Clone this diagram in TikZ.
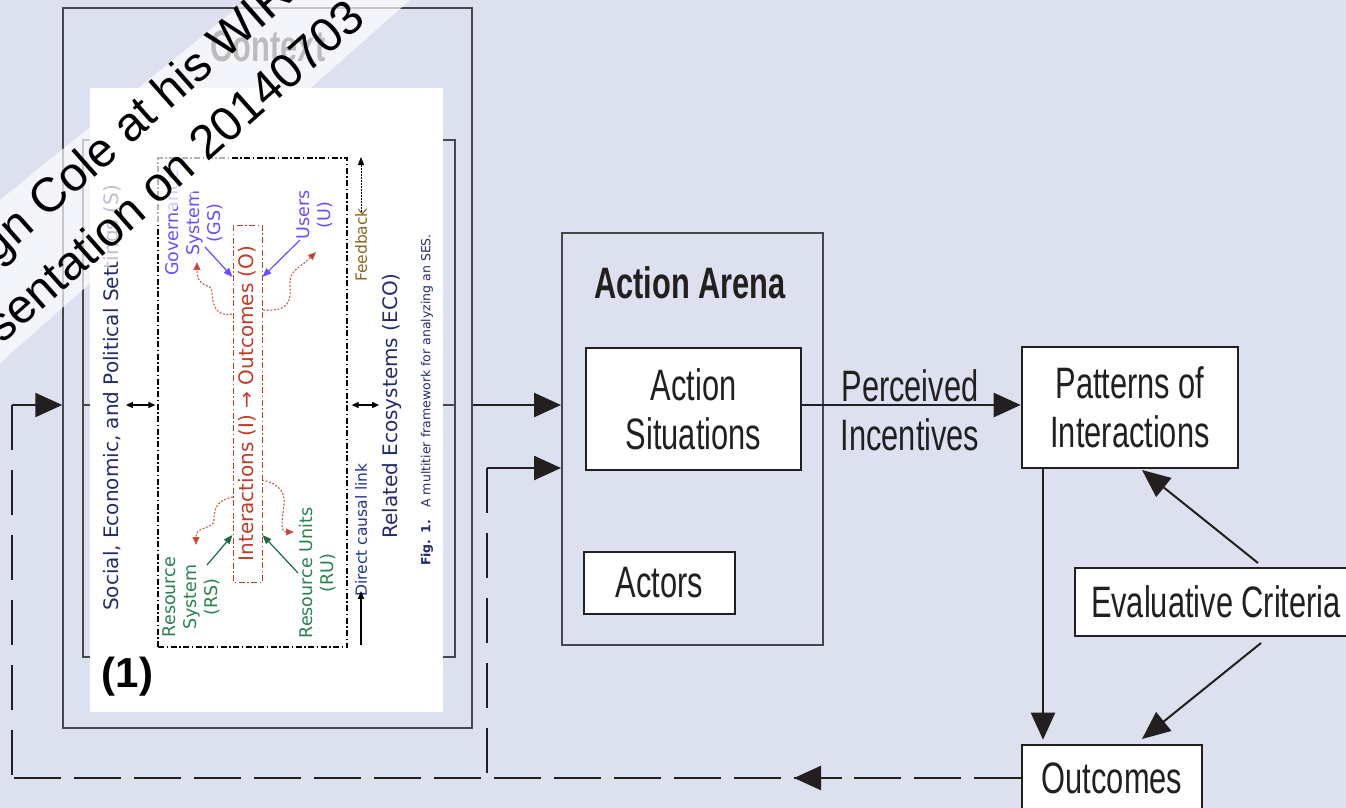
\documentclass[tikz,border=0pt]{standalone}
\usepackage{fontspec}
\setmainfont{Liberation Sans}
\newfontfamily\condf[FakeStretch=0.7]{Liberation Sans}
\newfontfamily\insf{DejaVu Sans}
\usetikzlibrary{arrows.meta}
\definecolor{bgc}{RGB}{220,224,239}
\definecolor{ink}{RGB}{35,31,32}
\definecolor{frame}{RGB}{70,70,75}
\definecolor{navy}{RGB}{35,45,110}
\definecolor{gsblue}{RGB}{100,80,255}
\definecolor{ired}{RGB}{195,60,40}
\definecolor{rsgreen}{RGB}{40,130,80}
\definecolor{fbk}{RGB}{140,100,30}
\definecolor{dcl}{RGB}{30,50,150}
\begin{document}
\begin{tikzpicture}[x=1pt,y=-1pt,
  box/.style={draw=ink, line width=2.6pt, fill=white, inner sep=0pt, font=\condf\fontsize{44}{49}\selectfont, text=ink, align=center},
  lbl/.style={font=\condf\fontsize{44}{49}\selectfont, text=ink, align=center, inner sep=0pt},
  arr/.style={-{Triangle[length=27pt,width=24pt]}, line width=2.5pt, draw=ink},
  thinarr/.style={-{Triangle[length=28pt,width=24pt]}, line width=2pt, draw=ink},
  dashh/.style={line width=2.5pt, draw=ink, dash pattern=on 47pt off 13pt},
  dashv/.style={line width=2.5pt, draw=ink, dash pattern=on 45pt off 20pt},
  ins/.style={font=\insf\fontsize{20}{22}\selectfont, rotate=90, inner sep=0pt, align=center},
  insm/.style={font=\insf\fontsize{17.5}{21}\selectfont, rotate=90, inner sep=0pt, align=center},
  inss/.style={font=\insf\fontsize{15.5}{18}\selectfont, rotate=90, inner sep=0pt},
  dashdot/.style={line width=1.3pt, dash pattern=on 6pt off 2.5pt on 1.5pt off 2.5pt},
  sarr/.style={-{Triangle[length=9pt,width=7pt]}, line width=1.2pt},
  dbl/.style={{Triangle[length=7pt,width=6pt]}-{Triangle[length=7pt,width=6pt]}, line width=1.3pt, draw=black},
  rdot/.style={draw=ired!85, line width=1.1pt, dash pattern=on 2pt off 1.6pt, -{Triangle[length=8pt,width=7pt,fill=ired]}},
  wm/.style={font=\fontsize{48}{48}\selectfont, text=black, rotate=41.5, anchor=base west, inner sep=0pt}
]
\clip (0,0) rectangle (1346,808);
\fill[bgc] (0,0) rectangle (1346,808);

% level coordinates
\coordinate (ya) at (0,405);
\coordinate (yb) at (0,468);
\coordinate (yc) at (0,778);
\coordinate (xl) at (12,0);
\coordinate (xm) at (487,0);
\coordinate (xv) at (1043,0);
\coordinate (ytop) at (0,277);
\coordinate (ybot) at (0,535);

% ---------- Context ----------
\node[draw=frame, line width=1.5pt, minimum width=409pt, minimum height=720pt, inner sep=0pt] (ctx) at (267.5,368) {};
\node[draw=frame, line width=1.4pt, minimum width=372pt, minimum height=517pt, inner sep=0pt] (inb) at (269,398.5) {};
\draw[draw=frame, line width=1.4pt] (inb.west |- ya) -- (inb.east |- ya);
\node[font=\condf\bfseries\fontsize{44}{49}\selectfont, text=ink, inner sep=0pt] (ctxt) at (268,46) {Context};

% ---------- inset picture ----------
\node[fill=white, minimum width=353pt, minimum height=624pt, inner sep=0pt] (img) at (266.5,400) {};
\node[draw=black, dashdot, minimum width=189pt, minimum height=489pt, inner sep=0pt] (ses) at (252.5,402.5) {};
\node[ins, draw=ired, dashdot, line width=1pt, text=ired, minimum width=357pt, minimum height=29pt] (io) at (247.5,403.5) {Interactions (I) → Outcomes (O)};
\node[ins, text=navy] (soc) at (113,398) {Social, Economic, and Political Settings (S)};
\node[ins, text=navy] (eco) at (392,406) {Related Ecosystems (ECO)};
\node[ins, font=\insf\fontsize{12.5}{14}\selectfont, text=navy] (fig) at (427,400) {\textbf{Fig. 1.}\quad A multitier framework for analyzing an SES.};
\node[insm, text=gsblue] (gs) at (194,223) {Governance\\System\\(GS)};
\node[insm, text=gsblue] (us) at (315,215) {Users\\(U)};
\node[insm, text=rsgreen] (rs) at (191,597) {Resource\\System\\(RS)};
\node[insm, text=rsgreen] (ru) at (318,573) {Resource Units\\(RU)};
\node[inss, text=fbk] (fb) at (361,245) {Feedback};
\node[inss, text=dcl] (dc) at (361,530) {Direct causal link};
\coordinate (fbt) at (361,157);
\coordinate (dcb) at (361,645);
\draw[line width=1pt, dash pattern=on 1.5pt off 1.5pt, -{Triangle[length=8pt,width=6pt]}] ([yshift=-4pt]fb.east) -- (fbt);
\draw[line width=1.2pt, -{Triangle[length=8pt,width=6pt]}] (dcb) -- ([yshift=6pt]dc.west);
\draw[dbl, shorten <=3pt, shorten >=2pt] (soc.south |- ya) -- (ses.west |- ya);
\draw[dbl, shorten <=4pt, shorten >=3pt] (ses.east |- ya) -- (eco.north |- ya);
\coordinate (g1) at (205,247);
\coordinate (u1) at (300,240);
\coordinate (r1) at (207,565);
\coordinate (r2) at (298,573);
\draw[sarr, gsblue] (g1) -- (io.north |- ytop);
\draw[sarr, gsblue] (u1) -- (io.south |- ytop);
\draw[sarr, rsgreen!80!black] (r1) -- (io.north |- ybot);
\draw[sarr, rsgreen!80!black] (r2) -- (io.south |- ybot);
\draw[rdot] (232,314) .. controls (214,318) and (212,300) .. (212,292) .. controls (212,282) and (197,290) .. (197,262);
\draw[rdot] (263,310) .. controls (290,312) and (291,300) .. (290,285) .. controls (289,270) and (300,268) .. (316,252);
\draw[rdot] (233,497) .. controls (216,500) and (214,510) .. (214,520) .. controls (214,530) and (196,525) .. (196,545);
\draw[rdot] (262,480) .. controls (282,484) and (285,495) .. (284,505) .. controls (282,520) and (280,532) .. (294,532);
\node[font=\bfseries\fontsize{42}{42}\selectfont, text=black, inner sep=0pt] (one) at (127.5,677) {(1)};

% ---------- main diagram ----------
\node[draw=frame, line width=2pt, minimum width=261pt, minimum height=412pt, inner sep=0pt] (aa) at (692.5,439) {};
\node[lbl, font=\condf\bfseries\fontsize{44}{49}\selectfont] (aat) at (690,283) {Action Arena};
\node[box, minimum width=215pt, minimum height=122pt] (as) at (693.5,409) {Action\\Situations};
\node[box, minimum width=151pt, minimum height=62pt] (act) at (659.5,583) {Actors};
\node[lbl] (pi) at (910,410) {Perceived\\Incentives};
\node[box, minimum width=216pt, minimum height=121pt] (poi) at (1130,407.5) {Patterns of\\Interactions};
\node[box, minimum width=282pt, minimum height=68pt] (ec) at (1216,602) {Evaluative Criteria};
\node[box, minimum width=180pt, minimum height=66pt] (out) at (1112,778) {Outcomes};

\draw[arr] (ctx.east |- ya) -- (aa.west |- ya);
\draw[arr] (as.east |- ya) -- (poi.west |- ya);
\draw[arr, shorten >=4pt] (poi.south -| xv) -- (out.north -| xv);
\coordinate (e1) at (1258,563);
\coordinate (e2) at (1261,643);
\coordinate (t1) at (1142,470);
\coordinate (t2) at (1142,739);
\draw[thinarr] (e1) -- (t1);
\draw[thinarr] (e2) -- (t2);

% feedback dashed lines
\draw[dashh] (out.west) -- (xl |- yc);
\draw[dashv] (xl |- ya) -- (xl |- yc);
\draw[arr] (xl |- ya) -- (ctx.west |- ya);
\draw[dashv] (xm |- yb) -- (xm |- yc);
\draw[arr] (xm |- yb) -- (aa.west |- yb);
\coordinate (h1) at (842,778);
\coordinate (h2) at (794,778);
\draw[arr] (h1) -- (h2);

% ---------- watermark ----------
\fill[white, opacity=0.7] (247,0) -- (410,0) -- (0,363) -- (0,200) -- cycle;
\node[wm] (wm1) at (46,220) {\llap{gn }Cole at his WIRE};
\node[wm] (wm2) at (2,345) {sentation on 20140703};
\end{tikzpicture}
\end{document}
